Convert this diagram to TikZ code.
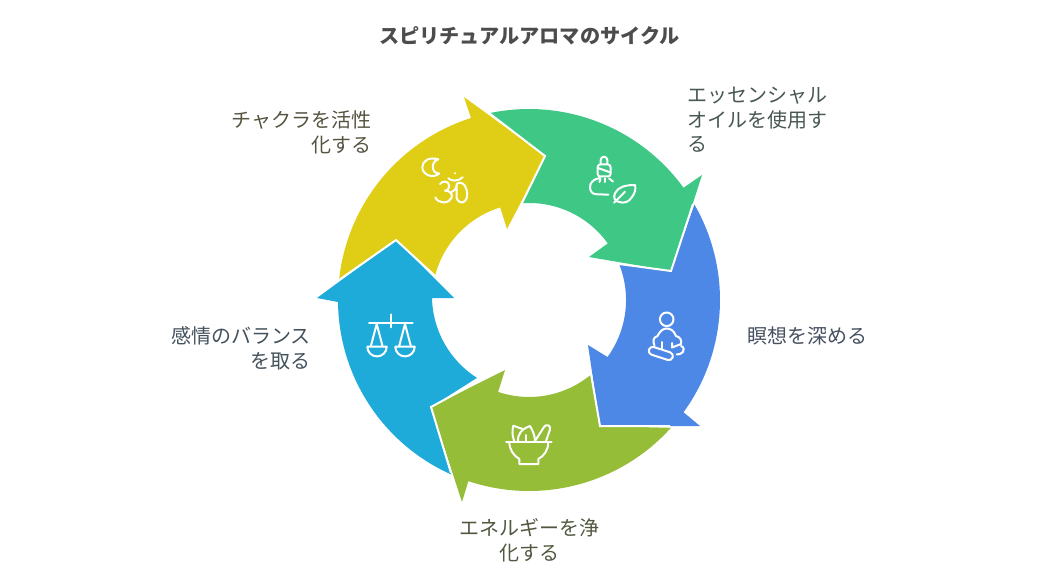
\documentclass[tikz,border=0pt]{standalone}
\usepackage{fontspec}
\setmainfont{Noto Sans CJK JP}
\usepackage{tikz}
\definecolor{arrowyellow}{HTML}{E0CD15}
\definecolor{arrowgreen}{HTML}{3EC785}
\definecolor{arrowblue}{HTML}{4E88E7}
\definecolor{arrowolive}{HTML}{95BD38}
\definecolor{arrowsky}{HTML}{1EABDA}
\begin{document}
\begin{tikzpicture} [x=1pt,y=1pt,yscale=-1,
		label text/.style={inner sep=0pt,font=\fontsize{20}{24.5}\selectfont},
		head edge/.style={draw=white,line width=2pt,line join=miter},
		icon line/.style={draw=white,line width=2pt,line cap=round,line join=round}]
			\useasboundingbox (0,0) rectangle (1046,588);
			\fill [arrowgreen] (489.3,113.2) arc [start angle=-102,end angle=-36,radius=191] -- (702,175) -- (671,271) -- (589,257) -- (607.8,243.4) arc [start angle=-35.7,end angle=-94,radius=97] -- (545,156) -- cycle;
			\fill [arrowblue] (694.4,204.5) arc [start angle=-30,end angle=36,radius=191] -- (700,426) -- (600,426) -- (588,345) -- (607.5,357) arc [start angle=36,end angle=-21.8,radius=97] -- (671,271) -- cycle;
			\fill [arrowolive] (670.9,427.8) arc [start angle=42,end angle=108.5,radius=191] -- (462,502) -- (431,407) -- (505,370) -- (498.1,391.9) arc [start angle=108.6,end angle=50,radius=97] -- (600,426) -- cycle;
			\fill [arrowsky] (451.3,474.5) arc [start angle=114,end angle=179.4,radius=191] -- (317,298) -- (396,240) -- (454,298) -- (432,298) arc [start angle=178.8,end angle=122.4,radius=97] -- (431,407) -- cycle;
			\fill [arrowyellow] (339.05,280) arc [start angle=-174,end angle=-107.7,radius=191] -- (464,97) -- (545,156) -- (507,229) -- (500.15,207.4) arc [start angle=-107.3,end angle=-165,radius=97] -- (396,240) -- cycle;
			\draw [head edge] (489,113) -- (545,156) -- (522,203);
			\draw [head edge] (693,204) -- (671,271) -- (619,264);
			\draw [head edge] (670,426) -- (600,426) -- (591,374);
			\draw [head edge] (451,473) -- (431,407) -- (477,382);
			\draw [head edge] (339,280) -- (396,240) -- (434,275);
			% moon and om
			\draw [icon line] (438.3,159.3) .. controls (429,156.5) and (422.3,161) .. (422.3,167.3) .. controls (422.3,174) and (432,179.5) .. (439.3,173.5) .. controls (435,173.5) and (432.8,170.5) .. (432.8,167) .. controls (432.8,163.5) and (434.5,160.5) .. (438.3,159.3);
			\draw [icon line] (440,184) .. controls (442,181) and (449,180) .. (449.3,186) .. controls (449.5,189) and (447,190.7) .. (445,190.7) .. controls (450,190.7) and (453,194) .. (451.5,198) .. controls (449,204) and (438,204) .. (435.3,197.3);
			\draw [icon line] (451.5,192) .. controls (454,191) and (456.7,188) .. (456.7,184.3) .. controls (458,182) and (463,182) .. (465,186) .. controls (468,191) and (468,198) .. (465,201) .. controls (462,204) and (458,202) .. (456.7,198.3) -- (456.7,184.3);
			\draw [icon line] (448.3,178.3) .. controls (451,181) and (458,182) .. (462.7,177.3);
			\fill [white] (455,173.3) circle (1.2);
			% bottle and leaf
			\draw [icon line] (600.7,164) -- (600.7,160) arc [start angle=180,end angle=360,radius=3.3] -- (607.3,164);
			\draw [icon line,rounded corners=2.5pt] (597.7,164.5) rectangle (610.5,176.5);
			\draw [icon line] (598,168) -- (610.5,172.5);
			\draw [icon line] (600.5,178.5) -- (599.5,182);
			\draw [icon line] (605,178.5) -- (605,182);
			\draw [icon line] (609,178.5) -- (613,181.5);
			\draw [icon line] (600,178) .. controls (593,179) and (590,183) .. (590,187) .. controls (590,191) and (592,194) .. (596,194.2) -- (608.3,194.7);
			\draw [icon line] (635,185) .. controls (625,185) and (618,187) .. (615,193.3) .. controls (613,198) and (615,201) .. (618.3,201.7) .. controls (624,204) and (629,202) .. (632,197) .. controls (635,193) and (636,189) .. (635,185) -- cycle;
			\draw [icon line] (614,202.7) -- (625,191.7);
			% meditating figure
			\draw [icon line] (666.7,319.3) circle (6.8);
			\draw [icon line] (654.5,345.5) .. controls (652.5,341) and (653,337.5) .. (657.5,336) .. controls (660,331) and (663,328.5) .. (666.7,328.5) .. controls (671,328.5) and (674,331) .. (676,336) .. controls (680,337) and (682,340) .. (681,344) -- (672,347.5) -- (672,343);
			\draw [icon line] (661.7,342) -- (661.7,348.5);
			\draw [icon line,rounded corners=4pt,rotate around={18:(660.8,353.5)}] (648.3,349.5) rectangle (673.3,357.5);
			\draw [icon line] (681,346) .. controls (684,347) and (684.5,350) .. (683,352) .. controls (681.5,354) and (679,354.3) .. (676.7,354.5);
			% mortar and herbs
			\draw [icon line] (506,442.3) -- (551.7,442.3);
			\draw [icon line] (509.3,442.3) .. controls (509.5,450) and (514,456) .. (519.3,459) -- (519.3,464) -- (538.3,464) -- (538.3,459) .. controls (544,456) and (548.3,450) .. (548.3,442.3);
			\draw [icon line] (514.5,441.7) .. controls (512,436) and (512,431) .. (513.3,425.7) -- (523.3,429.3);
			\draw [icon line] (518.3,441.7) .. controls (517,434) and (522,429) .. (530,426) .. controls (533,431) and (535,436) .. (535,441);
			\draw [icon line] (526,435) -- (526,441.7);
			\draw [icon line] (535,441) -- (544,427) .. controls (546,423.5) and (551,425) .. (550,429.5) -- (546,441);
			% scales
			\draw [icon line] (369,322.7) -- (412.7,322.7);
			\draw [icon line] (390.7,314.3) -- (390.7,327.3);
			\draw [icon line] (370.7,346.7) -- (376.7,324) -- (382.7,346.7);
			\draw [icon line] (399,346.7) -- (405,324) -- (411,346.7);
			\draw [icon line] (367.3,346.7) -- (386.7,346.7) arc [start angle=0,end angle=180,radius=9.7];
			\draw [icon line] (395.3,346.7) -- (414.7,346.7) arc [start angle=0,end angle=180,radius=9.7];
			\node (title) at (529.5,35.7) [inner sep=0pt,font=\fontsize{20.15}{24}\bfseries\selectfont,text=black!70] {スピリチュアルアロマのサイクル};
			\node (oil) at (687.5,120.2) [label text,anchor=west,align=left,text={rgb,255:red,72;green,88;blue,80}] {エッセンシャル\\オイルを使用す\\る};
			\node (meditate) at (747.5,335.7) [label text,anchor=west,text={rgb,255:red,70;green,80;blue,96}] {瞑想を深める};
			\node (purify) at (529,540.2) [label text,align=center,text={rgb,255:red,80;green,88;blue,64}] {エネルギーを浄\\化する};
			\node (balance) at (311,348.2) [label text,anchor=east,align=right,text={rgb,255:red,68;green,82;blue,92}] {感情のバランス\\を取る};
			\node (chakra) at (371.5,132.2) [label text,anchor=east,align=right,text={rgb,255:red,86;green,83;blue,64}] {チャクラを活性\\化する};
		\end{tikzpicture}
\end{document}
